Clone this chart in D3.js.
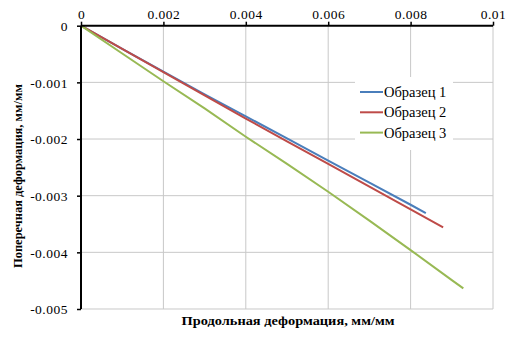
<!DOCTYPE html>
<html>
<head>
<meta charset="utf-8">
<script src="https://cdn.jsdelivr.net/npm/d3@7"></script>
<style>
  body { margin: 0; background: #fff; }
</style>
</head>
<body>
<div id="chart"></div>
<script>
// data (longitudinal strain, transverse strain)
const seriesNames = ["Образец 1", "Образец 2", "Образец 3"];
const seriesColors = ["#4a7ebb", "#be4b48", "#98b954"];

const sample1X = [0, 0.001, 0.002, 0.003, 0.004, 0.005, 0.006, 0.007, 0.008, 0.00837];
const sample1Y = [0, -0.00041, -0.00081, -0.00121, -0.00160, -0.00199, -0.00238, -0.00277, -0.00316, -0.00331];

const sample2X = [0, 0.001, 0.002, 0.003, 0.004, 0.005, 0.006, 0.007, 0.008, 0.00879];
const sample2Y = [0, -0.00041, -0.00082, -0.00123, -0.00164, -0.00204, -0.00244, -0.00284, -0.00324, -0.003558];

const sample3X = [0, 0.001, 0.002, 0.003, 0.004, 0.005, 0.006, 0.007, 0.008, 0.009, 0.00928];
const sample3Y = [0, -0.00049, -0.00098, -0.00146, -0.00196, -0.00244, -0.00293, -0.00344, -0.00396, -0.00449, -0.004635];

const xTicks = [0, 0.002, 0.004, 0.006, 0.008, 0.01];
const yTicks = [0, -0.001, -0.002, -0.003, -0.004, -0.005];
const xTitle = "Продольная  деформация, мм/мм";
const yTitle = "Поперечная  деформация, мм/мм";

const FONT = "'Liberation Serif', 'Times New Roman', 'DejaVu Serif', serif";

const W = 516, H = 338;
const margin = { top: 25.7, right: 23, bottom: 29, left: 81 };
const width = W - margin.left - margin.right;
const height = H - margin.top - margin.bottom;

const svg = d3.select("#chart").append("svg")
  .attr("width", W).attr("height", H)
  .attr("font-family", FONT);
const g = svg.append("g")
  .attr("transform", `translate(${margin.left},${margin.top})`);

const x = d3.scaleLinear().domain([0, 0.01]).range([0, width]);
const y = d3.scaleLinear().domain([-0.005, 0]).range([height, 0]);

// gridlines
g.append("g").selectAll("line")
  .data(xTicks.slice(1))
  .enter().append("line")
    .attr("x1", d => x(d)).attr("x2", d => x(d))
    .attr("y1", 0).attr("y2", height)
    .attr("stroke", "#c8c8c8").attr("stroke-width", 1);
g.append("g").selectAll("line")
  .data(yTicks.slice(1))
  .enter().append("line")
    .attr("x1", 0).attr("x2", width)
    .attr("y1", d => y(d)).attr("y2", d => y(d))
    .attr("stroke", "#c8c8c8").attr("stroke-width", 1);

// series
const series = [
  sample1X.map((v, i) => [v, sample1Y[i]]),
  sample2X.map((v, i) => [v, sample2Y[i]]),
  sample3X.map((v, i) => [v, sample3Y[i]])
];
const line = d3.line().x(d => x(d[0])).y(d => y(d[1]));
g.selectAll("path.series")
  .data(series)
  .enter().append("path")
    .attr("class", "series")
    .attr("d", line)
    .attr("fill", "none")
    .attr("stroke", (d, i) => seriesColors[i])
    .attr("stroke-width", 2);

// axes (plain hyphen minus like the original)
const fmt = d => String(d);
const xAxis = d3.axisTop(x).tickValues(xTicks).tickSize(4).tickFormat(fmt);
const yAxis = d3.axisLeft(y).tickValues(yTicks).tickSize(4).tickFormat(fmt);

const gx = g.append("g").call(xAxis);
const gy = g.append("g").call(yAxis);
[gx, gy].forEach(a => {
  a.attr("font-family", FONT).attr("font-size", 13.5);
  a.select(".domain").attr("stroke", "#000").attr("stroke-width", 2);
  a.selectAll(".tick line").attr("stroke", "#000").attr("stroke-width", 1.5);
  a.selectAll("text").attr("fill", "#000").attr("letter-spacing", 0.5);
});
gx.selectAll("text").attr("y", -7);
gy.selectAll("text").attr("x", -13).attr("dy", "0.35em");
gx.select(".domain").attr("d", `M0,0H${width}`);
gy.select(".domain").attr("d", `M0,0V${height}`);

// axis titles
svg.append("text")
  .attr("x", 288).attr("y", 325)
  .attr("text-anchor", "middle")
  .attr("font-size", 12.5).attr("font-weight", "bold")
  .attr("textLength", 213).attr("lengthAdjust", "spacingAndGlyphs")
  .text(xTitle);
svg.append("text")
  .attr("transform", "translate(22,176) rotate(-90)")
  .attr("text-anchor", "middle")
  .attr("font-size", 12.5).attr("font-weight", "bold")
  .attr("textLength", 184).attr("lengthAdjust", "spacingAndGlyphs")
  .text(yTitle);

// legend
const legend = svg.append("g").attr("transform", "translate(355,77)");
legend.append("rect")
  .attr("width", 98).attr("height", 73)
  .attr("fill", "#fff");
seriesNames.forEach((name, i) => {
  const row = legend.append("g").attr("transform", `translate(0,${15 + i * 20.3})`);
  row.append("line")
    .attr("x1", 5).attr("x2", 28)
    .attr("stroke", seriesColors[i]).attr("stroke-width", 2);
  row.append("text")
    .attr("x", 29).attr("dy", "0.35em")
    .attr("font-size", 14.5)
    .text(name);
});
</script>
</body>
</html>
